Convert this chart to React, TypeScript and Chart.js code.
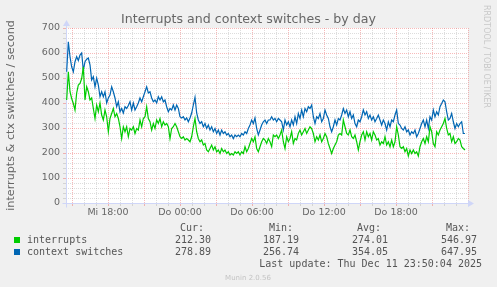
import React, { useEffect, useRef } from 'react';
import { Chart, registerables } from 'chart.js';

Chart.register(...registerables);

// ---- data (samples) ----
const interrupts = [
  412, 525, 445, 418, 398, 372, 440, 472, 478, 498,
  545, 412, 465, 445, 412, 420, 378, 338, 392, 365,
  400, 352, 332, 372, 345, 285, 338, 358, 378, 345,
  358, 338, 305, 258, 305, 285, 305, 265, 298, 292,
  305, 278, 298, 292, 332, 305, 338, 345, 385, 338,
  325, 292, 318, 298, 332, 318, 338, 305, 325, 312,
  318, 305, 258, 298, 305, 318, 305, 285, 265, 258,
  265, 252, 258, 252, 245, 265, 305, 338, 285, 258,
  245, 252, 232, 238, 212, 205, 218, 232, 212, 225,
  205, 212, 198, 218, 205, 212, 198, 205, 192, 198,
  192, 205, 198, 205, 192, 205, 198, 225, 205, 218,
  238, 258, 245, 265, 218, 205, 225, 245, 258, 252,
  238, 258,
  245, 225, 272, 265, 272, 258, 272, 292, 245, 218,
  265, 245, 258, 285, 238, 258, 252, 278, 292, 272,
  285, 298, 278, 292, 305, 298, 278, 245, 265, 252,
  272, 245, 258, 278, 265, 238, 218, 198, 218, 232,
  245, 272, 278, 272, 332, 305, 278, 272, 292, 265,
  258, 272, 245, 212, 245, 272, 285, 252, 285, 265,
  278, 252, 285, 272, 252, 258, 232, 245, 238, 265,
  232, 245, 225, 252, 225, 245, 305, 272, 225, 218,
  225, 205, 218, 188, 212, 198, 212, 198, 205, 188,
  225, 245, 258, 238, 265, 245, 305, 285, 238, 225,
  285, 272, 292, 305, 318, 338, 298, 272, 278, 245,
  265, 238, 245, 258, 252, 225, 218, 212,
];

const contextSwitches = [
  525, 645, 585, 545, 525, 565, 585, 570, 592, 600,
  530, 565, 575, 580, 553, 492, 505, 465, 500, 472,
  425, 445, 425, 445, 400, 420, 432, 465, 445, 420,
  385, 405, 365, 378, 360, 385, 378, 390, 405, 372,
  400, 372, 385, 400, 420, 405, 425, 445, 465, 440,
  445, 420, 405, 412, 400, 425, 412, 425, 405, 412,
  385, 365, 378, 372, 392, 372, 392, 378, 345, 340,
  345, 332, 340, 325, 340, 360, 392, 423, 360, 332,
  318, 325, 305, 318, 298, 312, 292, 305, 285, 298,
  278, 292, 272, 292, 278, 285, 272, 278, 265, 272,
  258, 272, 265, 272, 265, 278, 272, 285, 278, 298,
  312, 332, 318, 340, 298, 272, 292, 312, 325, 332,
  318, 332,
  332, 345, 332, 338, 325, 338, 332, 325, 292, 332,
  312, 325, 305, 332, 312, 345, 318, 358, 338, 372,
  345, 378, 365, 385, 378, 392, 345, 318, 345, 338,
  358, 325, 338, 372, 352, 338, 305, 285, 305, 332,
  312, 338, 332, 352, 378, 358, 372, 345, 365, 338,
  352, 318, 305, 332, 325, 345, 372, 352, 365, 338,
  352, 332, 345, 325, 338, 352, 332, 312, 332, 318,
  292, 325, 305, 332, 325, 352, 372, 318, 312, 298,
  292, 305, 285, 292, 272, 285, 278, 292, 265, 278,
  298, 318, 332, 305, 332, 298, 345, 332, 372, 345,
  365, 352, 385, 398, 412, 405, 365, 332, 338, 358,
  325, 298, 318, 305, 318, 325, 278, 278,
];

// time axis in hours relative to Do 00:00
const firstSampleHour = -9.4444; // Mi 14:33
const lastSampleHour = 23.75; // Do 23:45
const xMinHour = -9.5;
const xMaxHour = 24;
const xTickHours = [-6, 0, 6, 12, 18];
const xTickLabels = ['Mi 18:00', 'Do 00:00', 'Do 06:00', 'Do 12:00', 'Do 18:00'];
const yMax = 700;
const yLabelStep = 100;
const yMinorStep = 20;

const seriesNames = ['interrupts', 'context switches'];
const seriesColors = ['#00CC00', '#0066B3'];
const statHeaders = ['Cur:', 'Min:', 'Avg:', 'Max:'];
const interruptsStats = ['212.30', '187.19', '274.01', '546.97'];
const contextSwitchesStats = ['278.89', '256.74', '354.05', '647.95'];

const titleText = 'Interrupts and context switches - by day';
const yAxisTitle = 'interrupts & ctx switches / second';
const lastUpdateText = 'Last update: Thu Dec 11 23:50:04 2025';
const footerText = 'Munin 2.0.56';
const watermarkText = 'RRDTOOL / TOBI OETIKER';

const FONT_COLOR = '#666666';
const MAJOR_GRID = 'rgba(235, 90, 90, 0.42)';
const MINOR_GRID = 'rgba(150, 150, 150, 0.32)';
const AXIS_COLOR = '#CFD6F8';
const W = 497;
const H = 287;

const muninPlugin = {
  id: 'muninDecor',
  beforeDraw(chart: any) {
    const { ctx, chartArea } = chart;
    ctx.save();
    ctx.fillStyle = '#F0F0F0';
    ctx.fillRect(0, 0, chart.width, chart.height);
    ctx.fillStyle = '#FFFFFF';
    ctx.fillRect(chartArea.left, chartArea.top, chartArea.right - chartArea.left, chartArea.bottom - chartArea.top);
    ctx.restore();
  },
  beforeDatasetsDraw(chart: any) {
    const { ctx, chartArea } = chart;
    const x0 = Math.round(chart.scales.x.getPixelForValue(xMinHour)) + 0.5;
    const y0 = Math.round(chart.scales.y.getPixelForValue(0)) + 0.5;
    ctx.save();
    ctx.strokeStyle = AXIS_COLOR;
    ctx.fillStyle = AXIS_COLOR;
    ctx.lineWidth = 1;
    ctx.beginPath();
    ctx.moveTo(x0 - 4, y0);
    ctx.lineTo(chartArea.right + 1, y0);
    ctx.moveTo(x0, y0 + 4);
    ctx.lineTo(x0, chartArea.top - 3);
    ctx.stroke();
    ctx.beginPath();
    ctx.moveTo(chartArea.right, y0 - 3.5);
    ctx.lineTo(chartArea.right + 6, y0);
    ctx.lineTo(chartArea.right, y0 + 3.5);
    ctx.closePath();
    ctx.fill();
    ctx.beginPath();
    ctx.moveTo(x0 - 3.5, chartArea.top - 2);
    ctx.lineTo(x0, chartArea.top - 8);
    ctx.lineTo(x0 + 3.5, chartArea.top - 2);
    ctx.closePath();
    ctx.fill();
    ctx.restore();
  },
  afterDraw(chart: any) {
    const { ctx } = chart;
    ctx.save();
    ctx.fillStyle = FONT_COLOR;
    ctx.font = '12.6px "DejaVu Sans"';
    ctx.textAlign = 'center';
    ctx.textBaseline = 'alphabetic';
    ctx.fillText(titleText, W / 2, 22.5);

    ctx.font = '10px "DejaVu Sans Mono"';
    ctx.fillStyle = '#555555';
    ctx.textAlign = 'right';
    const headerRight = [204, 293, 381, 470];
    const valueRight = [211, 299, 388, 477];
    statHeaders.forEach((h, i) => ctx.fillText(h, headerRight[i], 231));
    const rows = [interruptsStats, contextSwitchesStats];
    const rowY = [243, 255];
    rows.forEach((vals, r) => {
      vals.forEach((v, i) => ctx.fillText(v, valueRight[i], rowY[r]));
    });
    ctx.textAlign = 'left';
    seriesNames.forEach((name, r) => {
      ctx.fillStyle = seriesColors[r];
      ctx.fillRect(14, rowY[r] - 6, 6, 6);
      ctx.fillStyle = '#555555';
      ctx.fillText(name, 27, rowY[r]);
    });
    ctx.textAlign = 'right';
    ctx.fillText(lastUpdateText, 482, 267);

    ctx.font = '7px "DejaVu Sans"';
    ctx.fillStyle = '#C4C4C4';
    ctx.textAlign = 'center';
    ctx.fillText(footerText, 248, 279.5);

    ctx.translate(486, 5);
    ctx.rotate(Math.PI / 2);
    ctx.font = '8px "DejaVu Sans"';
    ctx.fillStyle = '#C8C8C8';
    ctx.textAlign = 'left';
    ctx.textBaseline = 'middle';
    ctx.fillText(watermarkText, 0, 0);
    ctx.restore();
  },
};

export default function App() {
  const canvasRef = useRef<HTMLCanvasElement | null>(null);

  useEffect(() => {
    document.body.style.margin = '0';
    const canvas = canvasRef.current;
    if (!canvas) return;
    const toPoints = (arr: number[]) =>
      arr.map((v, i) => ({
        x: firstSampleHour + (i * (lastSampleHour - firstSampleHour)) / (arr.length - 1),
        y: v,
      }));

    const isMajorX = (c: any) => c.tick && Math.abs(c.tick.value % 3) === 0;
    const isMajorY = (c: any) => c.tick && c.tick.value % yLabelStep === 0;

    const chart = new Chart(canvas, {
      type: 'line',
      data: {
        datasets: [
          {
            label: seriesNames[0],
            data: toPoints(interrupts),
            borderColor: seriesColors[0],
            borderWidth: 1.2,
            pointRadius: 0,
            tension: 0,
            fill: false,
          },
          {
            label: seriesNames[1],
            data: toPoints(contextSwitches),
            borderColor: seriesColors[1],
            borderWidth: 1.2,
            pointRadius: 0,
            tension: 0,
            fill: false,
          },
        ],
      },
      options: {
        animation: false,
        responsive: false,
        devicePixelRatio: 1,
        layout: { padding: { top: 28, right: 29, left: 0, bottom: 0 } },
        plugins: {
          legend: { display: false },
          title: { display: false },
          tooltip: { enabled: false },
        },
        scales: {
          x: {
            type: 'linear',
            min: xMinHour,
            max: xMaxHour,
            afterBuildTicks: (axis: any) => {
              const t = [];
              for (let h = Math.ceil(xMinHour); h <= xMaxHour; h++) t.push({ value: h });
              axis.ticks = t;
            },
            afterFit: (s: any) => {
              s.height = H - 203;
            },
            ticks: {
              autoSkip: false,
              maxRotation: 0,
              minRotation: 0,
              padding: 1,
              color: FONT_COLOR,
              font: { family: 'DejaVu Sans', size: 9.5 },
              callback: (v: any) => {
                const i = xTickHours.indexOf(Number(v));
                return i >= 0 ? xTickLabels[i] : '';
              },
            },
            grid: {
              color: (c: any) => (isMajorX(c) ? MAJOR_GRID : MINOR_GRID),
              tickColor: (c: any) => (isMajorX(c) ? MAJOR_GRID : MINOR_GRID),
              tickLength: 3,
              lineWidth: 1,
            },
            border: { display: false, dash: [1, 1] },
          },
          y: {
            type: 'linear',
            min: 0,
            max: yMax,
            afterBuildTicks: (axis: any) => {
              const t = [];
              for (let v = 0; v <= yMax; v += yMinorStep) t.push({ value: v });
              axis.ticks = t;
            },
            afterFit: (s: any) => {
              s.width = 66;
            },
            ticks: {
              autoSkip: false,
              padding: 3,
              color: FONT_COLOR,
              font: { family: 'DejaVu Sans', size: 9.5 },
              callback: (v: any) => (Number(v) % yLabelStep === 0 ? String(v) : ''),
            },
            grid: {
              color: (c: any) => (isMajorY(c) ? MAJOR_GRID : MINOR_GRID),
              tickColor: (c: any) => (isMajorY(c) ? MAJOR_GRID : MINOR_GRID),
              tickLength: 3,
              lineWidth: 1,
            },
            border: { display: false, dash: [1, 1] },
            title: {
              display: true,
              text: yAxisTitle,
              color: FONT_COLOR,
              font: { family: 'DejaVu Sans', size: 11.2 },
              padding: { top: 4, bottom: 0 },
            },
          },
        },
      } as any,
      plugins: [muninPlugin],
    });
    return () => chart.destroy();
  }, []);

  return (
    <div style={{ position: 'absolute', left: 0, top: 0, width: W, height: H, background: '#F0F0F0' }}>
      <canvas ref={canvasRef} width={W} height={H} style={{ display: 'block', width: W, height: H }} />
    </div>
  );
}
